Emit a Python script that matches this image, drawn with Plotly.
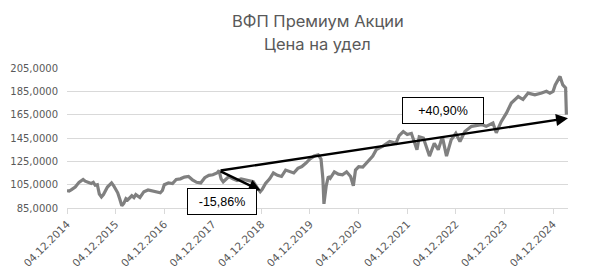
import plotly.graph_objects as go

dates = [
    "2014-12-04", "2014-12-20", "2015-01-04", "2015-02-04", "2015-03-04", "2015-04-04", "2015-04-20",
    "2015-05-04", "2015-06-04", "2015-06-20", "2015-07-04", "2015-07-20", "2015-08-04", "2015-08-20",
    "2015-09-04", "2015-10-04", "2015-11-04", "2015-11-20", "2015-12-04", "2015-12-20", "2016-01-04",
    "2016-01-20", "2016-02-04", "2016-02-20", "2016-03-04", "2016-04-04", "2016-04-20", "2016-05-04",
    "2016-06-04", "2016-06-20", "2016-07-04", "2016-08-04", "2016-09-04", "2016-10-04", "2016-11-04",
    "2016-11-20", "2016-12-04", "2017-01-04", "2017-02-04", "2017-03-04", "2017-04-04", "2017-05-04",
    "2017-06-04", "2017-06-20", "2017-07-04", "2017-08-04", "2017-09-04", "2017-10-04", "2017-11-04",
    "2017-12-04", "2018-01-04", "2018-01-20", "2018-02-04", "2018-02-20", "2018-03-04", "2018-04-04",
    "2018-05-04", "2018-06-04", "2018-07-04", "2018-08-04", "2018-09-04", "2018-10-04", "2018-11-04",
    "2018-11-25", "2018-12-10", "2019-01-04", "2019-02-04", "2019-03-04", "2019-04-04", "2019-05-04",
    "2019-06-04", "2019-07-04", "2019-08-04", "2019-09-04", "2019-10-04", "2019-11-04", "2019-12-04",
    "2020-01-04", "2020-02-04", "2020-02-25", "2020-03-10", "2020-03-18", "2020-03-25", "2020-04-04",
    "2020-04-20", "2020-05-04", "2020-06-04", "2020-07-04", "2020-08-04", "2020-09-04", "2020-10-04",
    "2020-10-25", "2020-11-10", "2020-12-04", "2021-01-04", "2021-02-15", "2021-03-20", "2021-04-15",
    "2021-06-04", "2021-07-25", "2021-09-10", "2021-10-04", "2021-11-04", "2021-12-04", "2022-01-04",
    "2022-02-15", "2022-03-04", "2022-04-04", "2022-05-20", "2022-06-25", "2022-07-25", "2022-08-25",
    "2022-09-25", "2022-10-30", "2022-12-04", "2023-01-04", "2023-02-10", "2023-04-01", "2023-05-04",
    "2023-06-15", "2023-07-20", "2023-09-09", "2023-10-04", "2023-11-10", "2023-12-20", "2024-01-25",
    "2024-03-17", "2024-04-22", "2024-05-30", "2024-07-20", "2024-09-09", "2024-10-15", "2024-11-10",
    "2024-12-04", "2024-12-20", "2025-01-25", "2025-02-15", "2025-03-08", "2025-03-14",
]
values = [
    100.0, 99.5, 100.5, 103.0, 107.0, 109.5, 108.0,
    107.5, 106.0, 107.0, 104.5, 105.0, 97.0, 94.5,
    96.5, 103.0, 106.5, 104.0, 101.0, 98.0, 93.0,
    87.0, 89.0, 93.0, 92.0, 95.5, 94.0, 96.5,
    94.0, 97.0, 99.0, 100.5, 99.5, 99.0, 98.0,
    100.0, 105.0, 106.5, 106.0, 109.5, 110.0, 111.5,
    112.0, 110.5, 109.0, 107.0, 106.5, 111.0, 113.0,
    113.5, 115.0, 117.0, 110.0, 107.5, 109.0, 112.0,
    110.0, 108.5, 110.0, 109.0, 108.5, 107.5, 102.0,
    99.0, 101.0, 106.0, 110.0, 115.0, 113.0, 112.0,
    117.5, 116.0, 115.0, 119.0, 120.5, 123.5, 127.0,
    129.5, 130.5, 127.0, 110.0, 88.5, 98.0, 104.0,
    112.0, 110.5, 116.0, 114.0, 113.5, 116.0, 112.0,
    104.0, 117.5, 120.5, 120.0, 125.0, 129.5, 135.0,
    138.0, 142.0, 140.5, 147.0, 150.5, 148.0, 149.0,
    135.0, 146.0, 145.0, 129.5, 140.5, 135.0, 146.0,
    129.5, 143.5, 149.0, 142.0, 150.5, 155.0, 155.5,
    156.5, 155.0, 157.8, 149.5, 159.0, 166.5, 175.0,
    180.5, 178.0, 183.5, 182.0, 183.5, 185.0, 183.5,
    185.0, 190.5, 197.8, 190.5, 188.0, 165.0,
]

tick_vals = ["2014-12-04", "2015-12-04", "2016-12-04", "2017-12-04", "2018-12-04", "2019-12-04",
             "2020-12-04", "2021-12-04", "2022-12-04", "2023-12-04", "2024-12-04"]
tick_text = ["04.12.2014", "04.12.2015", "04.12.2016", "04.12.2017", "04.12.2018", "04.12.2019",
             "04.12.2020", "04.12.2021", "04.12.2022", "04.12.2023", "04.12.2024"]

title_lines = ["ВФП Премиум Акции", "Цена на удел"]
drawdown_label = "-15,86%"
growth_label = "+40,90%"
arrow_start = ("2018-01-20", 117.0)
drawdown_end = ("2018-11-28", 100.0)
growth_end = ("2025-03-26", 162.0)

fig = go.Figure()
fig.add_trace(go.Scatter(x=dates, y=values, mode="lines",
                         line=dict(color="#808080", width=3.2), showlegend=False))

gray = "#595959"
W, H = 589, 272
L, R, T, B = 67, 21, 68, 64
pw, ph = W - L - R, H - T - B


def px(x):
    return (x - L) / pw


def py(y):
    return (H - B - y) / ph


fig.update_layout(
    width=W, height=H,
    margin=dict(l=L, r=R, t=T, b=B, autoexpand=False),
    paper_bgcolor="white", plot_bgcolor="white",
    separators=", ",
    xaxis=dict(type="date", range=["2014-12-04", "2025-03-26"], automargin=False,
               tickvals=tick_vals, ticktext=tick_text, tickangle=-45,
               showgrid=False, showline=True, linecolor="#d9d9d9", linewidth=1,
               ticks="outside", ticklen=5, tickcolor="#d9d9d9",
               tickfont=dict(family="DejaVu Sans", size=10.5, color=gray)),
    yaxis=dict(range=[85, 205], tick0=85, dtick=20, tickformat=".4f", automargin=False,
               showgrid=True, gridcolor="#d9d9d9", gridwidth=1, zeroline=False,
               ticklabelstandoff=8,
               tickfont=dict(family="DejaVu Sans", size=10, color=gray)),
)

for line, yc in zip(title_lines, (21, 44)):
    fig.add_annotation(x=0.5, xref="paper", xanchor="center", y=py(yc), yref="paper",
                       yanchor="middle", text=line, showarrow=False,
                       font=dict(family="Inter", size=16.5, color=gray))

for end in (drawdown_end, growth_end):
    fig.add_annotation(x=end[0], y=end[1], ax=arrow_start[0], ay=arrow_start[1],
                       xref="x", yref="y", axref="x", ayref="y", text="",
                       showarrow=True, arrowhead=2, arrowsize=1, arrowwidth=2.4,
                       arrowcolor="black")

fig.add_annotation(x=px(222), y=py(201.5), xref="paper", yref="paper",
                   xanchor="center", yanchor="middle",
                   text=drawdown_label, showarrow=False, width=66, height=23,
                   bgcolor="white", bordercolor="black", borderwidth=1, borderpad=1,
                   font=dict(family="Liberation Sans", size=12.5, color="black"))
fig.add_annotation(x=px(443), y=py(110.5), xref="paper", yref="paper",
                   xanchor="center", yanchor="middle",
                   text=growth_label, showarrow=False, width=78, height=23,
                   bgcolor="white", bordercolor="black", borderwidth=1, borderpad=1,
                   font=dict(family="Liberation Sans", size=12.5, color="black"))

fig.write_html("out.html")
